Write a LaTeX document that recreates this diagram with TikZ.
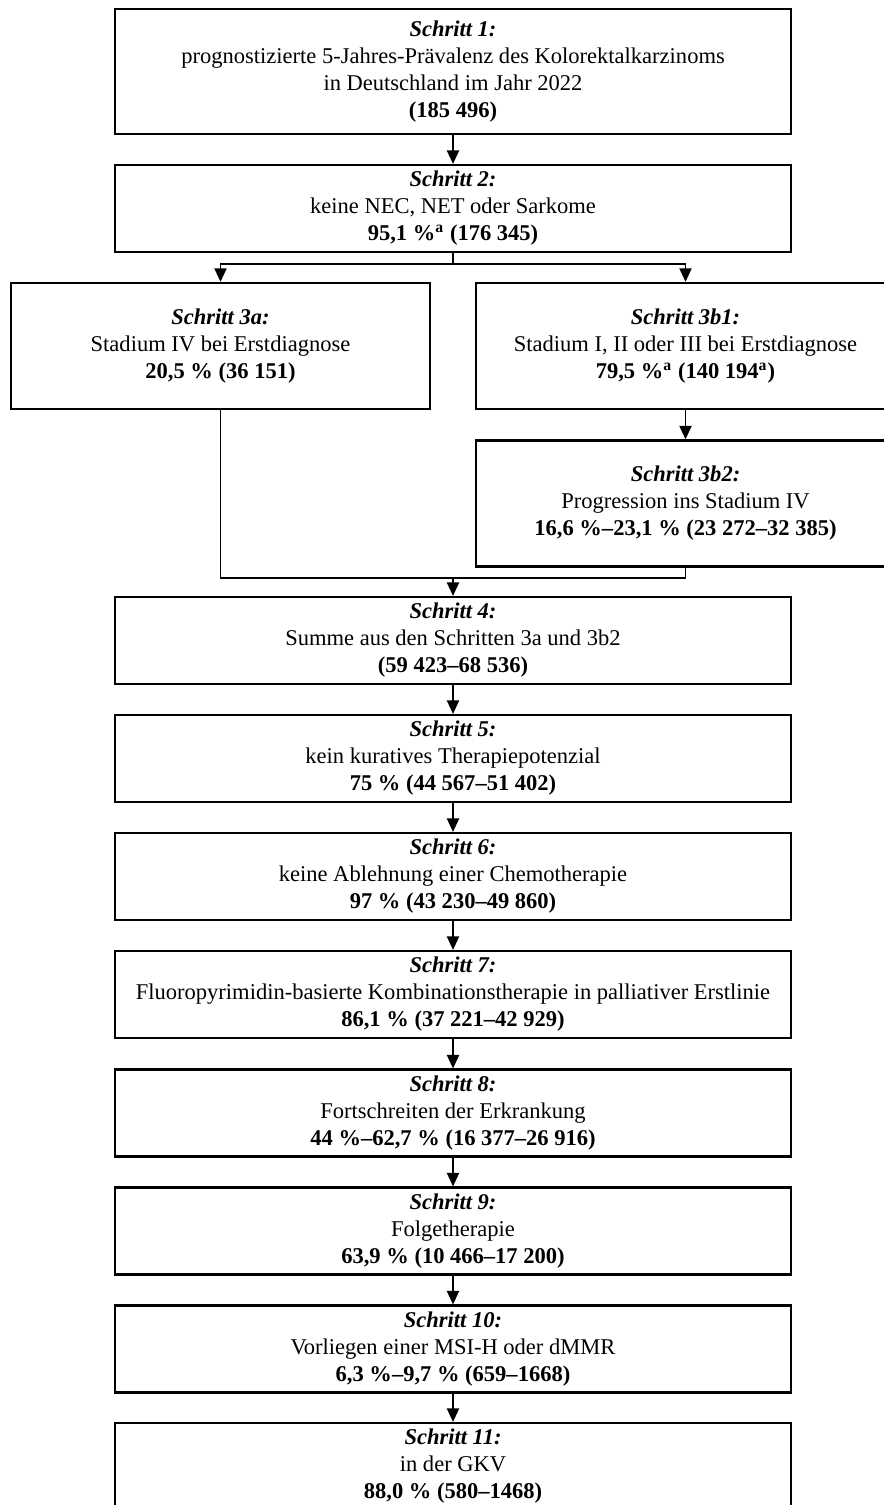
\documentclass[tikz,border=0pt]{standalone}
\usepackage{fontspec}
\setmainfont{Liberation Serif}
\usetikzlibrary{arrows.meta}
\tikzset{
  stepbox/.style={draw, line width=1pt, rectangle, align=center, inner sep=0pt,
    minimum width=300pt, minimum height=38.6pt, font=\fontsize{10}{12}\selectfont},
  sidebox/.style={stepbox, minimum width=186pt, minimum height=56pt},
  link/.style={line width=0.75pt, -{Triangle[length=6pt,width=5.4pt]}},
  joinline/.style={line width=0.75pt}
}
\newcommand{\schritt}[1]{\textbf{\textit{Schritt #1:}}}
\begin{document}
\begin{tikzpicture}[x=0.444pt,y=-0.444pt]
        \useasboundingbox (0,0) rectangle (883,1505);
        % boxes
        \node[stepbox, minimum height=55.5pt] (s1) at (453,71.5) {\schritt{1}\\prognostizierte 5-Jahres-Prävalenz des Kolorektalkarzinoms\\in Deutschland im Jahr 2022\\\textbf{(185~496)}};
        \node[stepbox] (s2) at (453,208.5) {\schritt{2}\\keine NEC, NET oder Sarkome\\\textbf{95,1~\%\textsuperscript{a} (176~345)}};
        \node[sidebox] (s3a) at (220.5,346) {\schritt{3a}\\Stadium IV bei Erstdiagnose\\\textbf{20,5~\% (36~151)}};
        \node[sidebox] (s3b1) at (685.5,346) {\schritt{3b1}\\Stadium I, II oder III bei Erstdiagnose\\\textbf{79,5~\%\textsuperscript{a} (140~194\textsuperscript{a})}};
        \node[sidebox] (s3b2) at (685.5,503.5) {\schritt{3b2}\\Progression ins Stadium IV\\\textbf{16,6~\%--23,1~\% (23~272--32~385)}};
        \node[stepbox] (s4) at (453,640.5) {\schritt{4}\\Summe aus den Schritten 3a und 3b2\\\textbf{(59~423--68~536)}};
        \node[stepbox] (s5) at (453,758.5) {\schritt{5}\\kein kuratives Therapiepotenzial\\\textbf{75~\% (44~567--51~402)}};
        \node[stepbox] (s6) at (453,876.5) {\schritt{6}\\keine Ablehnung einer Chemotherapie\\\textbf{97~\% (43~230--49~860)}};
        \node[stepbox] (s7) at (453,994.5) {\schritt{7}\\Fluoropyrimidin-basierte Kombinationstherapie in palliativer Erstlinie\\\textbf{86,1~\% (37~221--42~929)}};
        \node[stepbox] (s8) at (453,1113) {\schritt{8}\\Fortschreiten der Erkrankung\\\textbf{44~\%--62,7~\% (16~377--26~916)}};
        \node[stepbox] (s9) at (453,1231) {\schritt{9}\\Folgetherapie\\\textbf{63,9~\% (10~466--17~200)}};
        \node[stepbox] (s10) at (453,1349) {\schritt{10}\\Vorliegen einer MSI-H oder dMMR\\\textbf{6,3~\%--9,7~\% (659--1668)}};
        \node[stepbox] (s11) at (453,1466.5) {\schritt{11}\\in der GKV\\\textbf{88,0~\% (580--1468)}};
        % split and join
        \coordinate (split) at (453,264);
        \coordinate (merge) at (453,578);
        \draw[joinline] (s2.south) -- (split);
        \draw[link] (split) -| (s3a.north);\draw[link] (split) -| (s3b1.north);
        \draw[link] (s3b1) -- (s3b2);
        \draw[joinline] (s3a.south) |- (merge);\draw[joinline] (s3b2.south) |- (merge);
        \draw[link] (merge) -- (s4.north);
        % arrows
        \draw[link] (s1) -- (s2);
        \foreach \a/\b in {s4/s5,s5/s6,s6/s7,s7/s8,s8/s9,s9/s10,s10/s11}
          \draw[link] (\a) -- (\b);
\end{tikzpicture}
\end{document}
